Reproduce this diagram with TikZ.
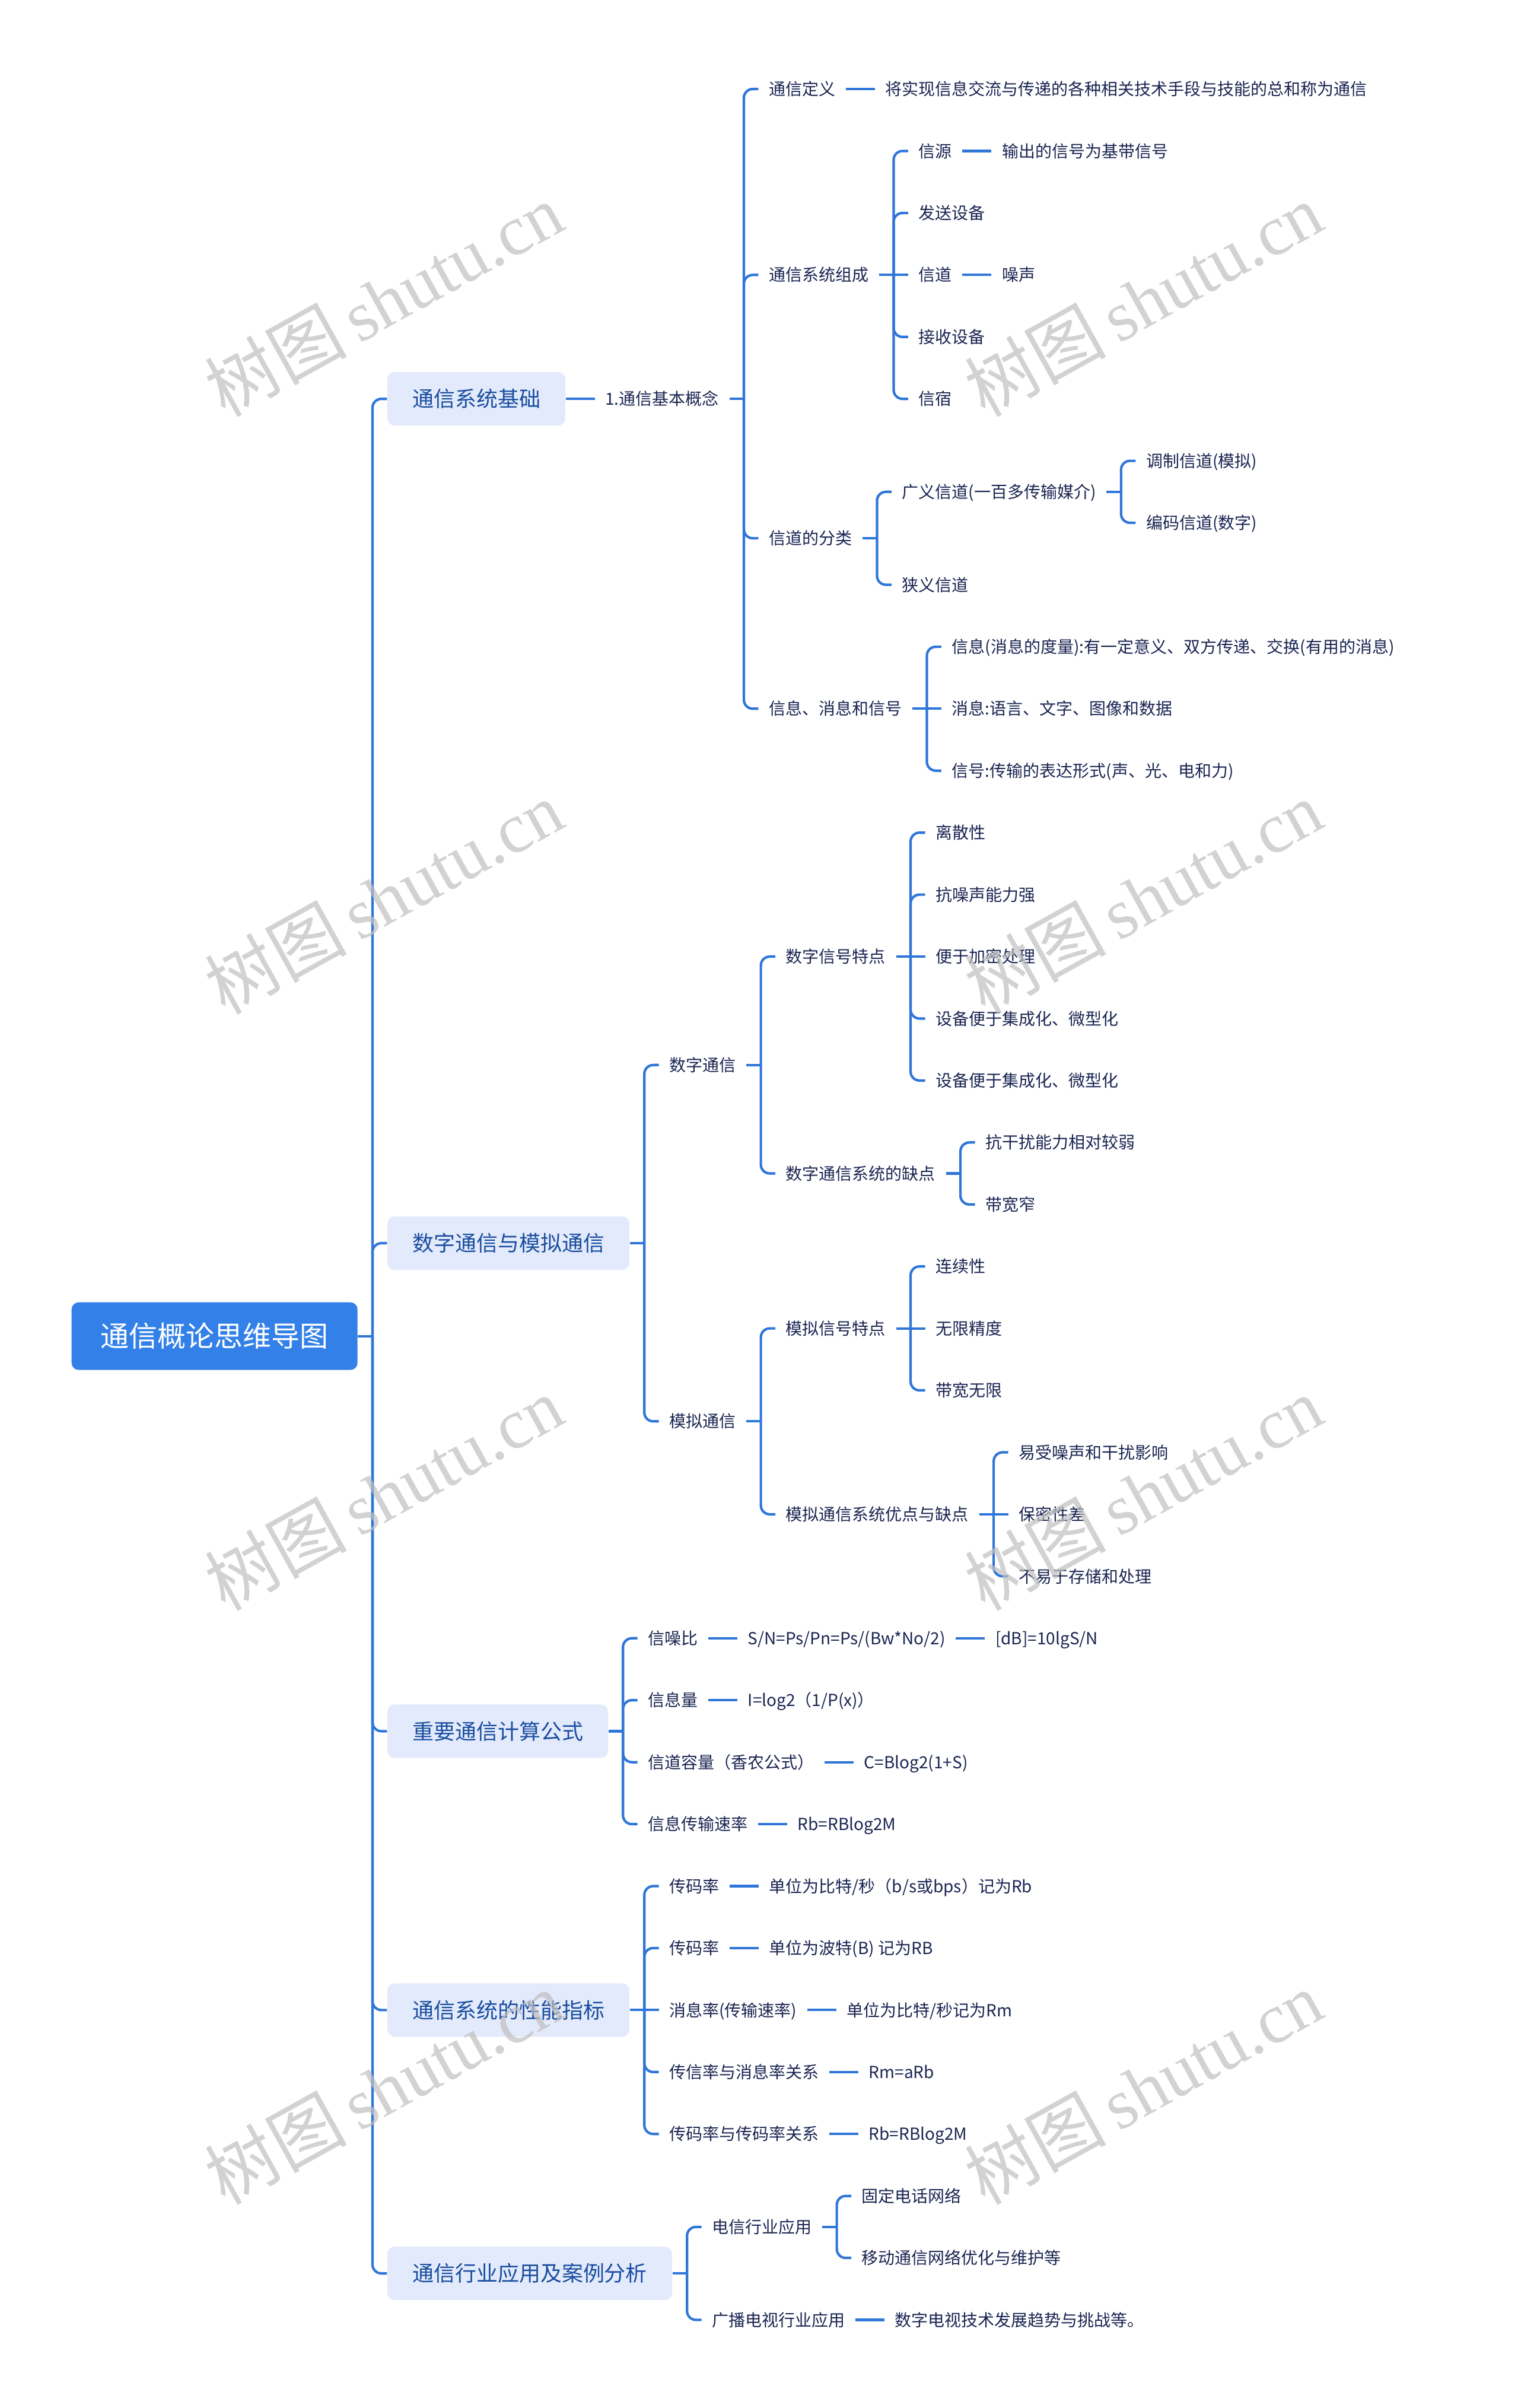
\documentclass[tikz,border=0pt]{standalone}
\usepackage{fontspec}
\setmainfont{Noto Sans CJK SC}
\newfontfamily\wmlatin{Liberation Serif}
\newfontfamily\wmcjk{Noto Sans CJK SC}
\definecolor{linkc}{HTML}{2F76D9}
\definecolor{rootc}{HTML}{3381E8}
\definecolor{primc}{HTML}{E3EAFB}
\definecolor{primt}{HTML}{1A4EA0}
\definecolor{leaft}{HTML}{1B2552}
\newcommand\mkid[5][leaf]{\path (#3.east) ++(49,0) coordinate (tmp); \node[#1] (#2) at (tmp |- 0,#4) {#5};}
\newcommand\mstub[1]{\draw[link] (#1.east) -- ++(24.5,0);}
\newcommand\mlink[2]{\path (#1.east) ++(24.5,0) coordinate (jj); \draw[link] (jj) -- (jj |- #2.west) -- (#2.west);}
\newcommand\mstr[2]{\draw[link] (#1.east) -- (#2.west);}
\begin{document}
\begin{tikzpicture}[x=0.01cm, y=-1.0443cm,
  link/.style={draw=linkc, line width=0.042cm, rounded corners=0.15cm},
  leaf/.style={anchor=west, inner xsep=0.17cm, inner ysep=0pt, text height=0.218cm, text depth=0.005cm, font=\fontsize{7.97pt}{9pt}\selectfont, text=leaft},
  prim/.style={anchor=west, fill=primc, rounded corners=0.12cm, inner xsep=0.42cm, inner ysep=0pt, minimum height=0.9cm, text height=0.28cm, text depth=0.006cm, font=\fontsize{10.24pt}{12pt}\selectfont, text=primt},
  rootn/.style={anchor=west, fill=rootc, rounded corners=0.12cm, inner xsep=0.49cm, inner ysep=0pt, minimum height=1.14cm, text height=0.37cm, text depth=0.006cm, font=\fontsize{13.66pt}{16pt}\selectfont, text=white},
  wm/.style={rotate=29, text=black!25, opacity=0.7, font=\fontsize{34pt}{40pt}\selectfont}
]
\fill[white] (0,-1.43637) rectangle (2560,37.4222);
\useasboundingbox (0,-1.43637) rectangle (2560,37.4222);

\node[rootn] (r) at (120,20.125) {通信概论思维导图};

\mkid[prim]{p1}{r}{5}{通信系统基础}
\mkid[prim]{p2}{r}{18.625}{数字通信与模拟通信}
\mkid[prim]{p3}{r}{26.5}{重要通信计算公式}
\mkid[prim]{p4}{r}{31}{通信系统的性能指标}
\mkid[prim]{p5}{r}{35.25}{通信行业应用及案例分析}

% P1
\mkid{a}{p1}{5}{1.通信基本概念}
\mkid{a1}{a}{0}{通信定义}
\mkid{a1x}{a1}{0}{将实现信息交流与传递的各种相关技术手段与技能的总和称为通信}
\mkid{a2}{a}{3}{通信系统组成}
\mkid{b1}{a2}{1}{信源}
\mkid{b1x}{b1}{1}{输出的信号为基带信号}
\mkid{b2}{a2}{2}{发送设备}
\mkid{b3}{a2}{3}{信道}
\mkid{b3x}{b3}{3}{噪声}
\mkid{b4}{a2}{4}{接收设备}
\mkid{b5}{a2}{5}{信宿}
\mkid{a3}{a}{7.25}{信道的分类}
\mkid{c1}{a3}{6.5}{广义信道(一百多传输媒介)}
\mkid{c11}{c1}{6}{调制信道(模拟)}
\mkid{c12}{c1}{7}{编码信道(数字)}
\mkid{c2}{a3}{8}{狭义信道}
\mkid{a4}{a}{10}{信息、消息和信号}
\mkid{d1}{a4}{9}{信息(消息的度量):有一定意义、双方传递、交换(有用的消息)}
\mkid{d2}{a4}{10}{消息:语言、文字、图像和数据}
\mkid{d3}{a4}{11}{信号:传输的表达形式(声、光、电和力)}

% P2
\mkid{e1}{p2}{15.75}{数字通信}
\mkid{f1}{e1}{14}{数字信号特点}
\mkid{g1}{f1}{12}{离散性}
\mkid{g2}{f1}{13}{抗噪声能力强}
\mkid{g3}{f1}{14}{便于加密处理}
\mkid{g4}{f1}{15}{设备便于集成化、微型化}
\mkid{g5}{f1}{16}{设备便于集成化、微型化}
\mkid{f2}{e1}{17.5}{数字通信系统的缺点}
\mkid{h1}{f2}{17}{抗干扰能力相对较弱}
\mkid{h2}{f2}{18}{带宽窄}
\mkid{e2}{p2}{21.5}{模拟通信}
\mkid{i1}{e2}{20}{模拟信号特点}
\mkid{j1}{i1}{19}{连续性}
\mkid{j2}{i1}{20}{无限精度}
\mkid{j3}{i1}{21}{带宽无限}
\mkid{i2}{e2}{23}{模拟通信系统优点与缺点}
\mkid{k1}{i2}{22}{易受噪声和干扰影响}
\mkid{k2}{i2}{23}{保密性差}
\mkid{k3}{i2}{24}{不易于存储和处理}

% P3
\mkid{l1}{p3}{25}{信噪比}
\mkid{l1x}{l1}{25}{S/N=Ps/Pn=Ps/(Bw*No/2)}
\mkid{l1y}{l1x}{25}{[dB]=10lgS/N}
\mkid{l2}{p3}{26}{信息量}
\mkid{l2x}{l2}{26}{I=log2（1/P(x)）}
\mkid{l3}{p3}{27}{信道容量（香农公式）}
\mkid{l3x}{l3}{27}{C=Blog2(1+S)}
\mkid{l4}{p3}{28}{信息传输速率}
\mkid{l4x}{l4}{28}{Rb=RBlog2M}

% P4
\mkid{m1}{p4}{29}{传码率}
\mkid{m1x}{m1}{29}{单位为比特/秒（b/s或bps）记为Rb}
\mkid{m2}{p4}{30}{传码率}
\mkid{m2x}{m2}{30}{单位为波特(B) 记为RB}
\mkid{m3}{p4}{31}{消息率(传输速率)}
\mkid{m3x}{m3}{31}{单位为比特/秒记为Rm}
\mkid{m4}{p4}{32}{传信率与消息率关系}
\mkid{m4x}{m4}{32}{Rm=aRb}
\mkid{m5}{p4}{33}{传码率与传码率关系}
\mkid{m5x}{m5}{33}{Rb=RBlog2M}

% P5
\mkid{n1}{p5}{34.5}{电信行业应用}
\mkid{n11}{n1}{34}{固定电话网络}
\mkid{n12}{n1}{35}{移动通信网络优化与维护等}
\mkid{n2}{p5}{36}{广播电视行业应用}
\mkid{n2x}{n2}{36}{数字电视技术发展趋势与挑战等。}

% connectors
\mstub{r}
\mlink{r}{p1}\mlink{r}{p2}\mlink{r}{p3}\mlink{r}{p4}\mlink{r}{p5}
\mstr{p1}{a}
\mstub{a}
\mlink{a}{a1}\mlink{a}{a2}\mlink{a}{a3}\mlink{a}{a4}
\mstr{a1}{a1x}
\mstub{a2}
\mlink{a2}{b1}\mlink{a2}{b2}\mstr{a2}{b3}\mlink{a2}{b4}\mlink{a2}{b5}
\mstr{b1}{b1x}\mstr{b3}{b3x}
\mstub{a3}
\mlink{a3}{c1}\mlink{a3}{c2}
\mstub{c1}
\mlink{c1}{c11}\mlink{c1}{c12}
\mstub{a4}
\mlink{a4}{d1}\mstr{a4}{d2}\mlink{a4}{d3}

\mstub{p2}
\mlink{p2}{e1}\mlink{p2}{e2}
\mstub{e1}
\mlink{e1}{f1}\mlink{e1}{f2}
\mstub{f1}
\mlink{f1}{g1}\mlink{f1}{g2}\mstr{f1}{g3}\mlink{f1}{g4}\mlink{f1}{g5}
\mstub{f2}
\mlink{f2}{h1}\mlink{f2}{h2}
\mstub{e2}
\mlink{e2}{i1}\mlink{e2}{i2}
\mstub{i1}
\mlink{i1}{j1}\mstr{i1}{j2}\mlink{i1}{j3}
\mstub{i2}
\mlink{i2}{k1}\mstr{i2}{k2}\mlink{i2}{k3}

\mstub{p3}
\mlink{p3}{l1}\mlink{p3}{l2}\mlink{p3}{l3}\mlink{p3}{l4}
\mstr{l1}{l1x}\mstr{l1x}{l1y}\mstr{l2}{l2x}\mstr{l3}{l3x}\mstr{l4}{l4x}

\mstub{p4}
\mlink{p4}{m1}\mlink{p4}{m2}\mstr{p4}{m3}\mlink{p4}{m4}\mlink{p4}{m5}
\mstr{m1}{m1x}\mstr{m2}{m2x}\mstr{m3}{m3x}\mstr{m4}{m4x}\mstr{m5}{m5x}

\mstub{p5}
\mlink{p5}{n1}\mlink{p5}{n2}
\mstub{n1}
\mlink{n1}{n11}\mlink{n1}{n12}
\mstr{n2}{n2x}

% watermarks
\foreach \wx/\wy [count=\i] in {647/3.40, 1928/3.40, 647/13.04, 1928/13.04, 647/22.66, 1928/22.66, 647/32.25, 1928/32.25}
  \node[wm] (wm\i) at (\wx,\wy) {\wmcjk 树图\,\wmlatin shutu.cn};
\end{tikzpicture}
\end{document}
